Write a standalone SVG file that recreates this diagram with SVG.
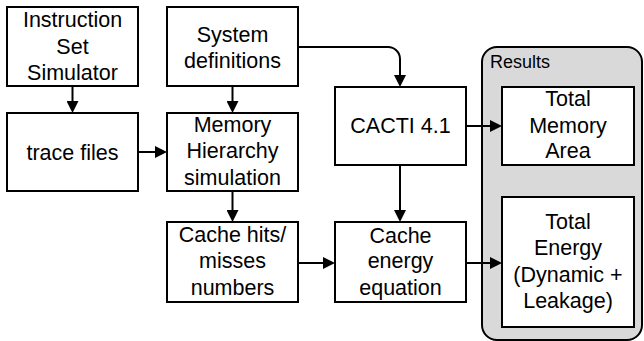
<svg xmlns="http://www.w3.org/2000/svg" width="644" height="341" viewBox="0 0 644 341">
<style>
.box{fill:#fff;stroke:#000;stroke-width:2}
.grp{fill:#d9d9d9;stroke:#000;stroke-width:2}
text{font-family:"Liberation Sans",Arial,sans-serif;font-size:21.5px;fill:#000;text-anchor:middle}
.lbl{font-size:18px;text-anchor:start}
.c{fill:none;stroke:#000;stroke-width:2;marker-end:url(#ah)}
</style>
<defs>
<marker id="ah" viewBox="0 0 12 12" refX="8" refY="6" markerWidth="12" markerHeight="12" markerUnits="userSpaceOnUse" orient="auto">
<path d="M0,0 L12,6 L0,12 z" fill="#000"/>
</marker>
</defs>
<g id="results">
<rect class="grp" x="482" y="47" width="160" height="293" rx="15"/>
<text class="lbl" x="490" y="68">Results</text>
</g>
<g id="iss">
<rect class="box" x="7" y="7" width="131" height="79"/>
<text x="72.5" y="27">Instruction</text>
<text x="72.5" y="54">Set</text>
<text x="72.5" y="80">Simulator</text>
</g>
<g id="sysdef">
<rect class="box" x="167" y="7" width="131" height="79"/>
<text x="232.5" y="42">System</text>
<text x="232.5" y="68">definitions</text>
</g>
<g id="trace">
<rect class="box" x="7" y="113" width="131" height="78"/>
<text x="72.5" y="160">trace files</text>
</g>
<g id="memsim">
<rect class="box" x="167" y="113" width="131" height="78"/>
<text x="232.5" y="132">Memory</text>
<text x="232.5" y="158">Hierarchy</text>
<text x="232.5" y="185">simulation</text>
</g>
<g id="hits">
<rect class="box" x="167" y="222" width="131" height="80"/>
<text x="232.5" y="242">Cache hits/</text>
<text x="232.5" y="268">misses</text>
<text x="232.5" y="295">numbers</text>
</g>
<g id="cacti">
<rect class="box" x="335" y="87" width="131" height="78"/>
<text x="400.5" y="133">CACTI 4.1</text>
</g>
<g id="energyeq">
<rect class="box" x="335" y="222" width="131" height="80"/>
<text x="400.5" y="243">Cache</text>
<text x="400.5" y="268">energy</text>
<text x="400.5" y="295">equation</text>
</g>
<g id="area">
<rect class="box" x="502" y="87" width="132" height="78"/>
<text x="568" y="106">Total</text>
<text x="568" y="133">Memory</text>
<text x="568" y="158">Area</text>
</g>
<g id="energy">
<rect class="box" x="502" y="197" width="132" height="130"/>
<text x="568" y="229">Total</text>
<text x="568" y="255">Energy</text>
<text x="568" y="282">(Dynamic +</text>
<text x="568" y="308">Leakage)</text>
</g>
<g id="connectors">
<path class="c" d="M72.5,86 V109"/>
<path class="c" d="M232.5,86 V109"/>
<path class="c" d="M138,152 H163"/>
<path class="c" d="M298,47 H388 A12,12 0 0 1 400,59 V83"/>
<path class="c" d="M466,126 H498"/>
<path class="c" d="M400,165 V218"/>
<path class="c" d="M232.5,191 V218"/>
<path class="c" d="M298,263 H331"/>
<path class="c" d="M466,263 H498"/>
</g>
</svg>
